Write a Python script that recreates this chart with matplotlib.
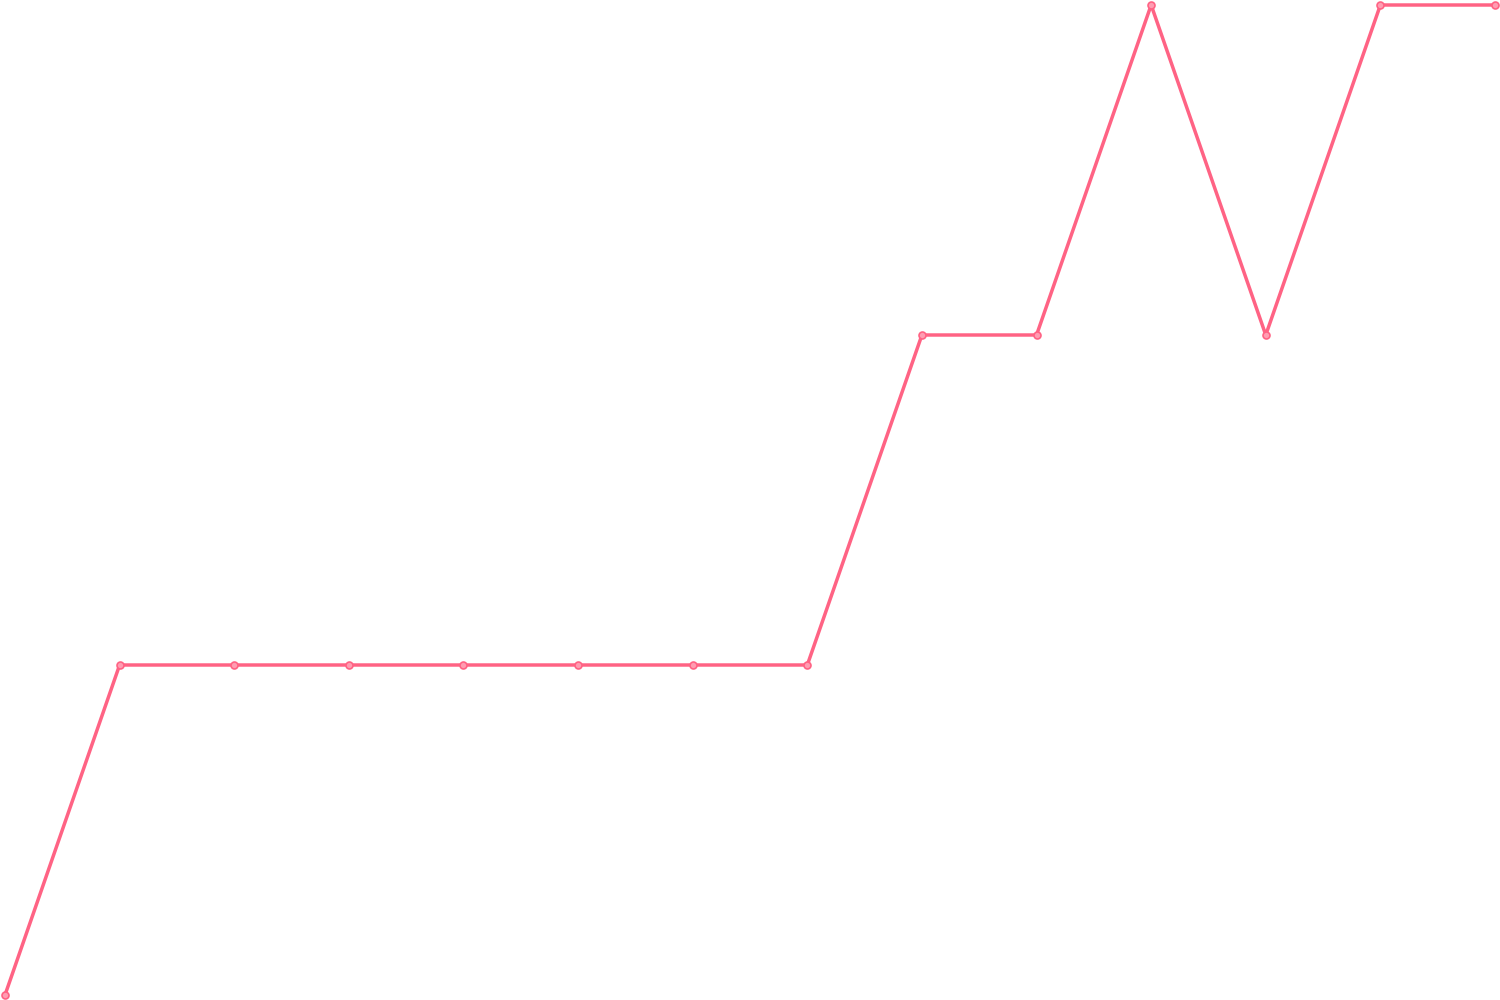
import matplotlib
matplotlib.use("Agg")
import matplotlib.pyplot as plt
import numpy as np

# values, one per point
steps = list(range(14))
values = [0, 1, 1, 1, 1, 1, 1, 1, 2, 2, 3, 2, 3, 3]

line_color = "#ff6384"

fig = plt.figure(figsize=(15, 10), dpi=100)
ax = fig.add_axes([0, 0, 1, 1])
ax.plot(steps, values, color=line_color, linewidth=2.5,
        marker="o", markersize=5, markerfacecolor="#ff9db2",
        markeredgecolor=line_color, markeredgewidth=1.2)

# leave ~5 px of padding on each side like the reference
pad_x = 5 / ((1500 - 10) / (len(steps) - 1))
pad_y = 5 / ((1000 - 10) / 3)
ax.set_xlim(-pad_x, len(steps) - 1 + pad_x)
ax.set_ylim(-pad_y, 3 + pad_y)
ax.axis("off")

fig.savefig("out.png", dpi=100)
